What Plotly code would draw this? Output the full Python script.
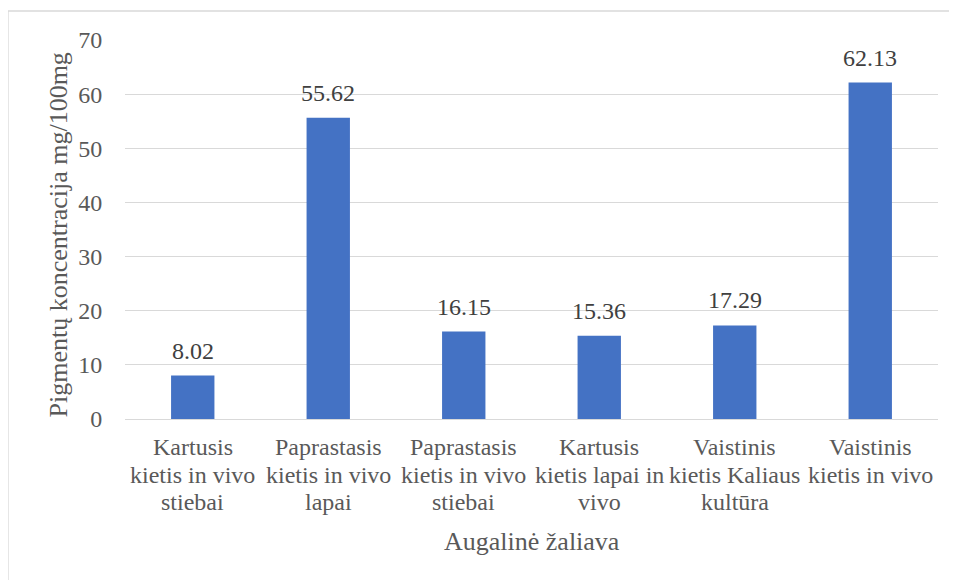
import plotly.graph_objects as go

categories = [
    "Kartusis kietis in vivo stiebai",
    "Paprastasis kietis in vivo lapai",
    "Paprastasis kietis in vivo stiebai",
    "Kartusis kietis lapai in vivo",
    "Vaistinis kietis Kaliaus kultūra",
    "Vaistinis kietis in vivo",
]
category_lines = [
    ["Kartusis", "kietis in vivo", "stiebai"],
    ["Paprastasis", "kietis in vivo", "lapai"],
    ["Paprastasis", "kietis in vivo", "stiebai"],
    ["Kartusis", "kietis lapai in", "vivo"],
    ["Vaistinis", "kietis Kaliaus", "kultūra"],
    ["Vaistinis", "kietis in vivo"],
]
values = [8.02, 55.62, 16.15, 15.36, 17.29, 62.13]
labels = ["8.02", "55.62", "16.15", "15.36", "17.29", "62.13"]
y_ticks = [0, 10, 20, 30, 40, 50, 60, 70]
x_title = "Augalinė žaliava"
y_title = "Pigmentų koncentracija mg/100mg"

FONT = "Liberation Serif, Times New Roman, serif"
GREY = "#595959"
# the page body has an 8px margin, so the figure is drawn 8px in from the window edge
W, H = 949, 572
L, T = 117, 32
PR, PB = 930, 411           # plot right / bottom in figure pixels
R, B = W - PR, H - PB
pw, ph = PR - L, PB - T

fig = go.Figure(go.Bar(
    x=categories, y=values,
    marker=dict(color="#4472C4", line=dict(width=0)),
    width=0.32, cliponaxis=False,
))

fig.update_layout(
    width=W, height=H,
    margin=dict(l=L, r=R, t=T, b=B),
    paper_bgcolor="white", plot_bgcolor="white",
    showlegend=False,
    font=dict(family=FONT, color=GREY, size=24),
)
fig.update_xaxes(showticklabels=False, showline=False, showgrid=False)
fig.update_yaxes(
    range=[0, 70], tickvals=y_ticks,
    showgrid=True, gridcolor="#D9D9D9", gridwidth=1.3,
    zeroline=True, zerolinecolor="#D9D9D9", zerolinewidth=1.3,
    ticks="outside", ticklen=17, tickcolor="rgba(0,0,0,0)",
    tickfont=dict(family=FONT, size=24, color=GREY),
)

# data labels
for cat, v, lab in zip(categories, values, labels):
    fig.add_annotation(
        x=cat, xref="x", y=v, yref="y", text=lab, showarrow=False,
        xanchor="center", yanchor="middle", yshift=25,
        font=dict(family=FONT, size=24, color="#404040"),
    )

# wrapped category labels (Excel-like tight line spacing)
line_offsets = [-28, -56, -83]
for cat, lines in zip(categories, category_lines):
    for i, ln in enumerate(lines):
        fig.add_annotation(
            x=cat, xref="x", y=0, yref="paper", text=ln, showarrow=False,
            xanchor="center", yanchor="middle", yshift=line_offsets[i],
            font=dict(family=FONT, size=24, color=GREY),
        )

# axis titles
fig.add_annotation(
    x=0.5, xref="paper", y=0, yref="paper", text=x_title, showarrow=False,
    xanchor="center", yanchor="middle", yshift=-122,
    font=dict(family=FONT, size=26, color=GREY),
)
fig.add_annotation(
    x=0, xref="paper", y=0.5, yref="paper", text=y_title, showarrow=False,
    textangle=-90, xanchor="center", yanchor="middle", xshift=-67, yshift=-6,
    font=dict(family=FONT, size=26, color=GREY),
)

# chart border (Excel chart area outline)
fig.add_shape(
    type="rect", xref="paper", yref="paper",
    x0=(0 - L) / pw, x1=(W + 10 - L) / pw,
    y0=-(B + 10) / ph, y1=1 + (T - 3) / ph,
    line=dict(color="#D9D9D9", width=1.3), fillcolor="rgba(0,0,0,0)", layer="below",
)

fig.write_html("out.html")
